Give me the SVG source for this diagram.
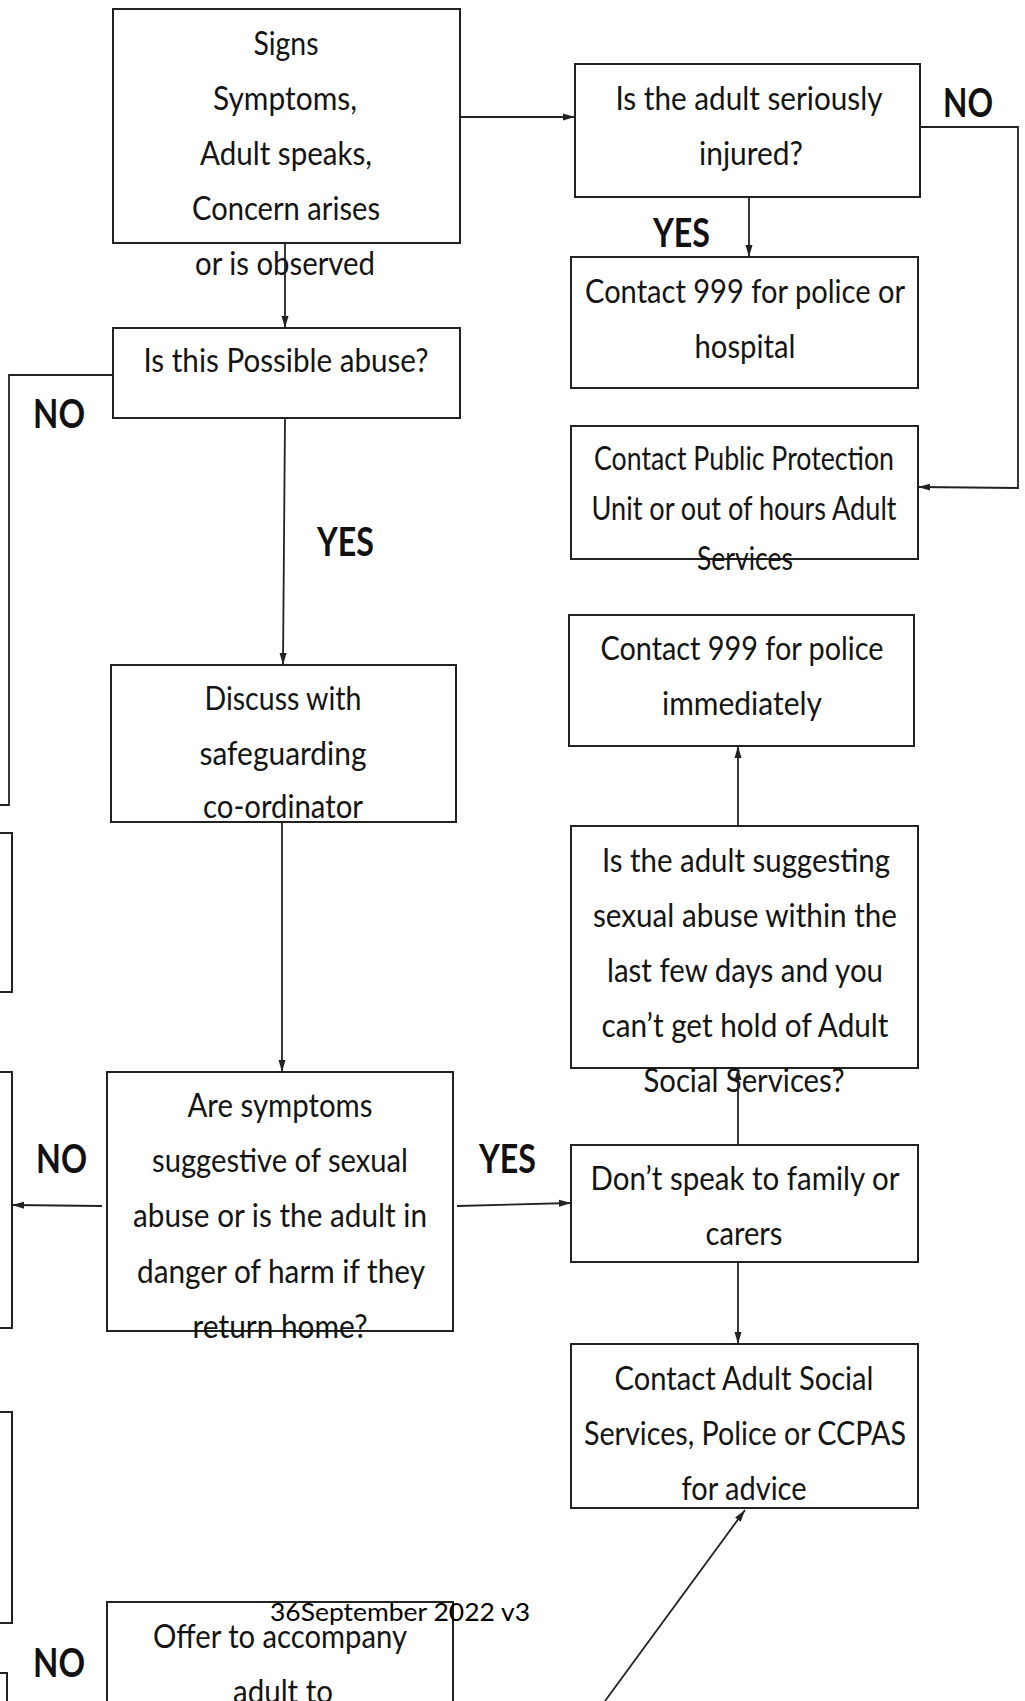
<svg xmlns="http://www.w3.org/2000/svg" width="1025" height="1701" viewBox="0 0 1025 1701">
<style>
.box{fill:#fff;stroke:#222;stroke-width:2}
.t{font-family:Lato,"Open Sans","Liberation Sans",sans-serif;font-size:32px;fill:#141414;text-anchor:middle}
.lbl{font-family:Lato,"Open Sans","Liberation Sans",sans-serif;font-size:40px;font-weight:700;fill:#111}
.foot{font-family:Lato,"Open Sans","Liberation Sans",sans-serif;font-size:25px;fill:#000}
.c{fill:none;stroke:#222;stroke-width:1.8}
.a{marker-end:url(#ah)}
</style>
<defs>
<marker id="ah" markerUnits="userSpaceOnUse" markerWidth="12" markerHeight="8" refX="12" refY="4" orient="auto">
<path d="M0,0.5 L12,4 L0,7.5 z" fill="#222"/>
</marker>
</defs>
<rect width="1025" height="1701" fill="#fff"/>

<g id="left-partials">
<rect class="box" x="-20" y="833" width="32" height="159"/>
<rect class="box" x="-20" y="1072" width="32" height="256"/>
<rect class="box" x="-20" y="1412" width="32" height="211"/>
<rect class="box" x="-20" y="1673" width="27" height="60"/>
</g>

<g id="n-signs">
<rect class="box" x="113" y="9" width="347" height="234"/>
<text class="t" x="286" y="55" textLength="65" lengthAdjust="spacingAndGlyphs">Signs</text>
<text class="t" x="285" y="110" textLength="144" lengthAdjust="spacingAndGlyphs">Symptoms,</text>
<text class="t" x="286" y="165" textLength="172" lengthAdjust="spacingAndGlyphs">Adult speaks,</text>
<text class="t" x="286" y="220" textLength="188" lengthAdjust="spacingAndGlyphs">Concern arises</text>
<text class="t" x="285" y="275" textLength="180" lengthAdjust="spacingAndGlyphs">or is observed</text>
</g>

<g id="n-possible">
<rect class="box" x="113" y="328" width="347" height="90"/>
<text class="t" x="286" y="372" textLength="285" lengthAdjust="spacingAndGlyphs">Is this Possible abuse?</text>
</g>

<g id="n-discuss">
<rect class="box" x="111" y="665" width="345" height="157"/>
<text class="t" x="283" y="710" textLength="157" lengthAdjust="spacingAndGlyphs">Discuss with</text>
<text class="t" x="283" y="765" textLength="167" lengthAdjust="spacingAndGlyphs">safeguarding</text>
<text class="t" x="283" y="818" textLength="160" lengthAdjust="spacingAndGlyphs">co-ordinator</text>
</g>

<g id="n-symptoms">
<rect class="box" x="107" y="1072" width="346" height="259"/>
<text class="t" x="280" y="1117" textLength="185" lengthAdjust="spacingAndGlyphs">Are symptoms</text>
<text class="t" x="280" y="1172" textLength="256" lengthAdjust="spacingAndGlyphs">suggestive of sexual</text>
<text class="t" x="280" y="1227" textLength="294" lengthAdjust="spacingAndGlyphs">abuse or is the adult in</text>
<text class="t" x="281" y="1283" textLength="288" lengthAdjust="spacingAndGlyphs">danger of harm if they</text>
<text class="t" x="280" y="1338" textLength="175" lengthAdjust="spacingAndGlyphs">return home?</text>
</g>

<g id="n-offer">
<rect class="box" x="107" y="1602" width="346" height="140"/>
<text class="t" x="280" y="1648" textLength="254" lengthAdjust="spacingAndGlyphs">Offer to accompany</text>
<text class="t" x="283" y="1703" textLength="100" lengthAdjust="spacingAndGlyphs">adult to</text>
</g>

<g id="n-injured">
<rect class="box" x="575" y="64" width="345" height="133"/>
<text class="t" x="749" y="110" textLength="267" lengthAdjust="spacingAndGlyphs">Is the adult seriously</text>
<text class="t" x="751" y="165" textLength="104" lengthAdjust="spacingAndGlyphs">injured?</text>
</g>

<g id="n-999-hospital">
<rect class="box" x="571" y="257" width="347" height="131"/>
<text class="t" x="745" y="303" textLength="320" lengthAdjust="spacingAndGlyphs">Contact 999 for police or</text>
<text class="t" x="745" y="358" textLength="101" lengthAdjust="spacingAndGlyphs">hospital</text>
</g>

<g id="n-ppu">
<rect class="box" x="571" y="426" width="347" height="133"/>
<text class="t" x="744" y="470" textLength="300" lengthAdjust="spacingAndGlyphs">Contact Public Protection</text>
<text class="t" x="744" y="520" textLength="305" lengthAdjust="spacingAndGlyphs">Unit or out of hours Adult</text>
<text class="t" x="745" y="570" textLength="96" lengthAdjust="spacingAndGlyphs">Services</text>
</g>

<g id="n-999-immediately">
<rect class="box" x="569" y="615" width="345" height="131"/>
<text class="t" x="742" y="660" textLength="283" lengthAdjust="spacingAndGlyphs">Contact 999 for police</text>
<text class="t" x="742" y="715" textLength="160" lengthAdjust="spacingAndGlyphs">immediately</text>
</g>

<g id="n-sexual-abuse">
<rect class="box" x="571" y="826" width="347" height="242"/>
<text class="t" x="746" y="872" textLength="288" lengthAdjust="spacingAndGlyphs">Is the adult suggesting</text>
<text class="t" x="745" y="927" textLength="304" lengthAdjust="spacingAndGlyphs">sexual abuse within the</text>
<text class="t" x="745" y="982" textLength="276" lengthAdjust="spacingAndGlyphs">last few days and you</text>
<text class="t" x="745" y="1037" textLength="287" lengthAdjust="spacingAndGlyphs">can’t get hold of Adult</text>
<text class="t" x="744" y="1092" textLength="201" lengthAdjust="spacingAndGlyphs">Social Services?</text>
</g>

<g id="n-dont-speak">
<rect class="box" x="571" y="1145" width="347" height="117"/>
<text class="t" x="745" y="1190" textLength="309" lengthAdjust="spacingAndGlyphs">Don’t speak to family or</text>
<text class="t" x="744" y="1245" textLength="77" lengthAdjust="spacingAndGlyphs">carers</text>
</g>

<g id="n-contact-ass">
<rect class="box" x="571" y="1344" width="347" height="164"/>
<text class="t" x="744" y="1390" textLength="259" lengthAdjust="spacingAndGlyphs">Contact Adult Social</text>
<text class="t" x="745" y="1445" textLength="322" lengthAdjust="spacingAndGlyphs">Services, Police or CCPAS</text>
<text class="t" x="744" y="1500" textLength="125" lengthAdjust="spacingAndGlyphs">for advice</text>
</g>

<g id="connectors">
<path class="c a" d="M460,117 L575,117"/>
<path class="c a" d="M285,243 L285,328"/>
<path class="c a" d="M749,197 L749,257"/>
<path class="c a" d="M920,127 L1018,127 L1018,488 L918,487"/>
<path class="c" d="M113,375 L9,375 L9,805 L0,805"/>
<path class="c a" d="M285,418 L283,665"/>
<path class="c a" d="M282,822 L282,1072"/>
<path class="c a" d="M102,1206 L12,1205"/>
<path class="c a" d="M457,1206 L571,1203"/>
<path class="c a" d="M738,1145 L738,1068"/>
<path class="c a" d="M738,826 L738,746"/>
<path class="c a" d="M738,1262 L738,1344"/>
<path class="c a" d="M605,1701 L745,1510"/>
</g>

<g id="labels">
<text class="lbl" x="943" y="117" textLength="50" lengthAdjust="spacingAndGlyphs">NO</text>
<text class="lbl" x="653" y="247" textLength="57" lengthAdjust="spacingAndGlyphs">YES</text>
<text class="lbl" x="33" y="428" textLength="52" lengthAdjust="spacingAndGlyphs">NO</text>
<text class="lbl" x="317" y="556" textLength="57" lengthAdjust="spacingAndGlyphs">YES</text>
<text class="lbl" x="36" y="1173" textLength="51" lengthAdjust="spacingAndGlyphs">NO</text>
<text class="lbl" x="479" y="1173" textLength="57" lengthAdjust="spacingAndGlyphs">YES</text>
<text class="lbl" x="33" y="1677" textLength="52" lengthAdjust="spacingAndGlyphs">NO</text>
</g>

<text class="foot" x="270" y="1621" textLength="260" lengthAdjust="spacingAndGlyphs">36September 2022 v3</text>
</svg>
